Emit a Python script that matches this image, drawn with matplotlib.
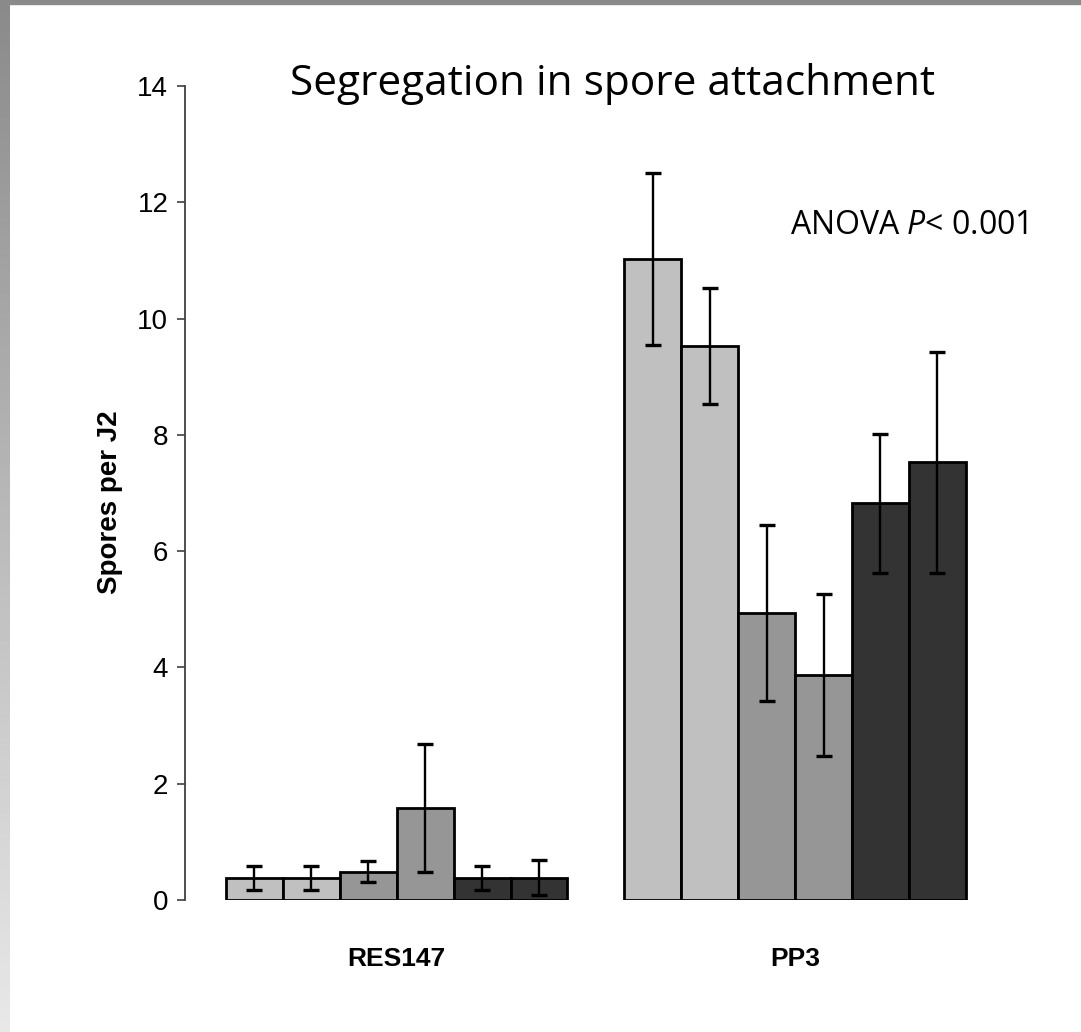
import matplotlib
matplotlib.use("Agg")
import matplotlib.pyplot as plt
import numpy as np
from matplotlib.patches import Rectangle

# ---- data ----
groups = ["RES147", "PP3"]
res_means = [0.38, 0.38, 0.49, 1.59, 0.38, 0.38]
res_err = [0.20, 0.20, 0.18, 1.10, 0.20, 0.30]
pp3_means = [11.03, 9.53, 4.94, 3.87, 6.82, 7.53]
pp3_err = [1.48, 1.00, 1.51, 1.40, 1.19, 1.90]
bar_colors = ["#c0c0c0", "#c0c0c0", "#969696", "#969696", "#333333", "#333333"]
yticks = [0, 2, 4, 6, 8, 10, 12, 14]
title = "Segregation in spore attachment"
ylabel = "Spores per J2"

plt.rcParams['mathtext.fontset'] = 'custom'
plt.rcParams['mathtext.rm'] = 'Open Sans'
plt.rcParams['mathtext.it'] = 'Open Sans:italic'

W, H = 1081, 1032
fig = plt.figure(figsize=(W / 100, H / 100), dpi=100)
fig.patch.set_facecolor("white")

# slide decoration: top band and left gradient strip
bg = fig.add_axes([0, 0, 10 / W, 1])
grad = np.linspace(0.54, 0.91, 256)[:, None]
bg.imshow(grad, cmap="gray", vmin=0, vmax=1, aspect="auto", origin="upper")
bg.axis("off")
fig.add_artist(Rectangle((0, 1 - 4 / H), 1, 4 / H, transform=fig.transFigure,
                         color="#8a8a8a", zorder=5))

ax = fig.add_axes([185 / W, 132 / H, 815 / W, 814 / H])
n = len(res_means)
x_res = np.arange(n)
x_pp3 = np.arange(n) + n + 1
err_kw = dict(elinewidth=1.7, capthick=2.4, ecolor="black")
ax.bar(x_res, res_means, width=1.0, color=bar_colors, edgecolor="black",
       linewidth=2.0, yerr=res_err, capsize=5.5, error_kw=err_kw)
ax.bar(x_pp3, pp3_means, width=1.0, color=bar_colors, edgecolor="black",
       linewidth=2.0, yerr=pp3_err, capsize=5.5, error_kw=err_kw)

ax.set_xlim(-1.22, 13.1)
ax.set_ylim(0, 14)
ax.set_yticks(yticks)
ax.set_yticklabels([str(t) for t in yticks],
                   fontfamily="Liberation Sans", fontsize=20)
ax.set_xticks([(n - 1) / 2, (n - 1) / 2 + n + 1])
ax.set_xticklabels(groups, fontfamily="Liberation Sans",
                   fontweight="bold", fontsize=19)
ax.tick_params(axis="x", length=0, pad=34)
ax.tick_params(axis="y", length=6, width=1.2, direction="out", pad=6, color="#404040")
for s in ["top", "right", "bottom"]:
    ax.spines[s].set_visible(False)
ax.spines["left"].set_color("#404040")
ax.spines["left"].set_linewidth(1.3)

fig.text(110 / W, 1 - 502 / H, ylabel, rotation=90, ha="center", va="center",
         fontfamily="Liberation Sans", fontweight="bold", fontsize=20)
fig.text(613 / W, 1 - 84 / H, title, ha="center", va="center",
         fontfamily="Open Sans", fontsize=30.5)
fig.text(790 / W, 1 - 226 / H, r"ANOVA $\mathit{P}$< 0.001", ha="left", va="center",
         fontfamily="Open Sans", fontsize=23)

fig.savefig("out.png", dpi=100)
